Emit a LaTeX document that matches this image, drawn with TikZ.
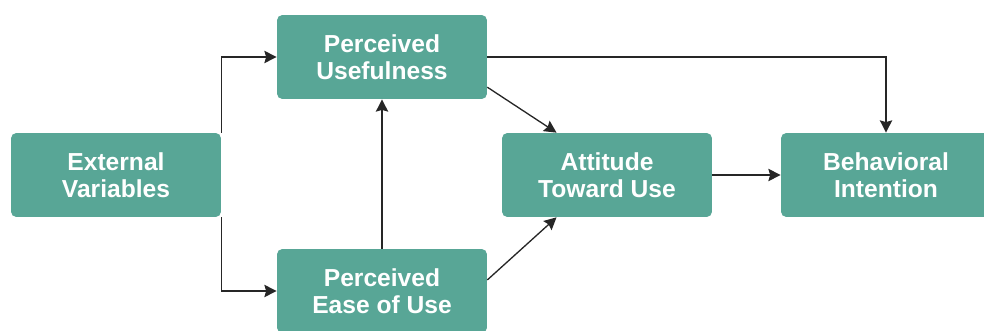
\documentclass[tikz,border=0pt]{standalone}
\usepackage{fontspec}
\setsansfont{Liberation Sans}
\usetikzlibrary{shapes,shapes.geometric,arrows.meta,calc}
\definecolor{tamteal}{RGB}{88,166,150}

\begin{document}
\begin{tikzpicture}[x=0.02cm,y=-0.02cm]
			\tikzstyle{tambox}=[rectangle, rounded corners=3pt, fill=tamteal, text=white, minimum width=4.2cm, minimum height=1.68cm, align=center, font=\sffamily\bfseries\fontsize{14}{15.5}\selectfont]
			\tikzstyle{tamarrow}=[draw=black!85, line width=0.75pt, -{Stealth[length=7pt,width=7pt,inset=1pt]}]
			\useasboundingbox (0,0) rectangle (984,331);
			\node[tambox] (ext) at (116,175) {External\\Variables};
			\node[tambox] (pu) at (382,57) {Perceived\\Usefulness};
			\node[tambox] (peou) at (382,291) {Perceived\\Ease of Use};
			\node[tambox] (att) at (607,175) {Attitude\\Toward Use};
			\node[tambox] (bi) at (886,175) {Behavioral\\Intention};
			\draw[tamarrow] (ext.north east) |- (pu.west);
			\draw[tamarrow] (ext.south east) |- (peou.west);
			\draw[tamarrow] (peou.north) -- (pu.south);
			\draw[tamarrow] (pu.-16) -- (att.140);
			\draw[tamarrow] (peou.6) -- (att.220);
			\draw[tamarrow] (pu.east) -| (bi.north);
			\draw[tamarrow] (att.east) -- (bi.west);
		\end{tikzpicture}
\end{document}
